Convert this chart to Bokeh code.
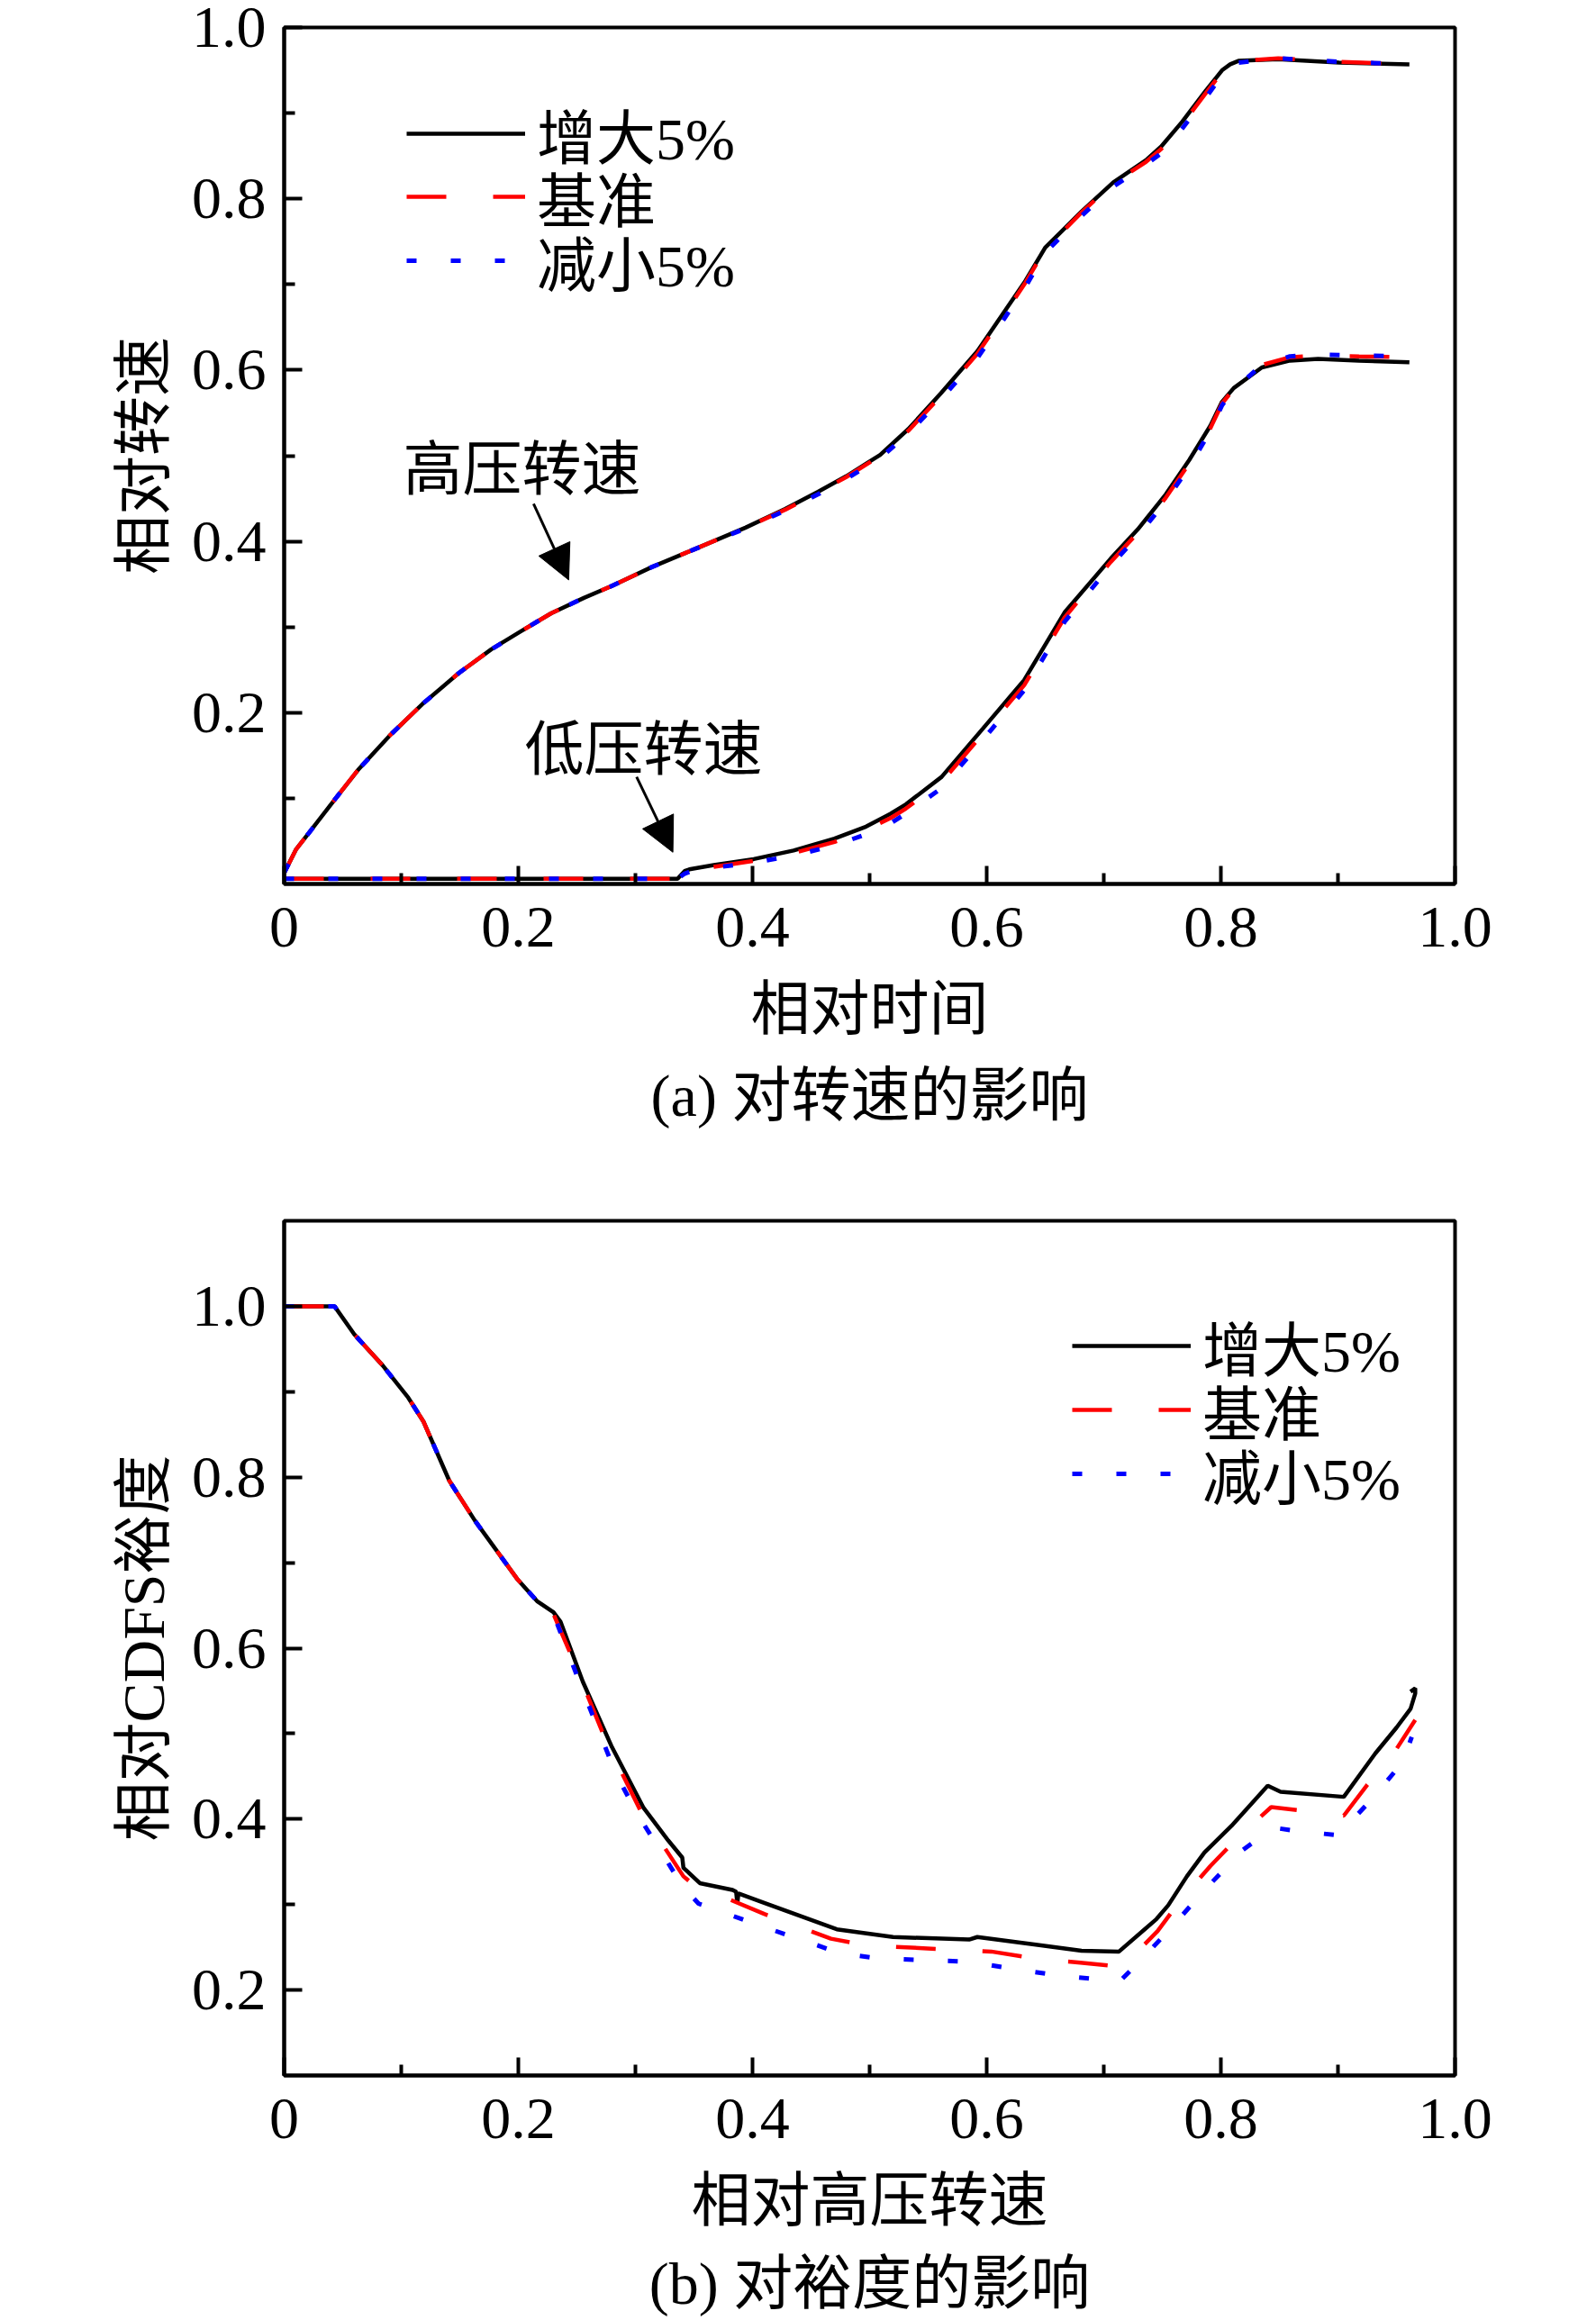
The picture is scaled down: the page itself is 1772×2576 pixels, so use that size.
from bokeh.plotting import figure
from bokeh.layouts import column
from bokeh.models import (Range1d, FixedTicker, Legend, LegendItem, Arrow, NormalHead,
                          Label, Title, CustomJSTickFormatter)
from bokeh.embed import file_html
from bokeh.resources import INLINE

# ---------------- data: (a) speeds vs relative time ----------------
series_names = ["增大5%", "基准", "减小5%"]

t_hp = [0.0, 0.010, 0.022, 0.040, 0.063, 0.090, 0.118, 0.149, 0.177, 0.201, 0.228, 0.256,
        0.280, 0.314, 0.349, 0.394, 0.428, 0.456, 0.480, 0.509, 0.533, 0.561, 0.592, 0.615,
        0.633, 0.650, 0.681, 0.708, 0.736, 0.749, 0.767, 0.787, 0.801, 0.808, 0.815, 0.849,
        0.901, 0.961]
hp_up = [0.013, 0.040, 0.061, 0.093, 0.133, 0.173, 0.210, 0.246, 0.274, 0.294, 0.316, 0.334,
         0.348, 0.370, 0.390, 0.416, 0.438, 0.458, 0.476, 0.501, 0.531, 0.573, 0.622, 0.668,
         0.704, 0.743, 0.785, 0.819, 0.845, 0.861, 0.890, 0.926, 0.950, 0.957, 0.961, 0.963,
         0.959, 0.957]
hp_base = [0.013, 0.040, 0.061, 0.093, 0.133, 0.173, 0.210, 0.246, 0.274, 0.294, 0.316, 0.334,
           0.348, 0.370, 0.390, 0.416, 0.437, 0.457, 0.475, 0.500, 0.529, 0.570, 0.619, 0.665,
           0.702, 0.741, 0.784, 0.818, 0.843, 0.858, 0.887, 0.923, 0.948, 0.956, 0.961, 0.964,
           0.960, 0.957]
hp_down = [0.013, 0.040, 0.061, 0.093, 0.133, 0.173, 0.210, 0.246, 0.274, 0.294, 0.316, 0.334,
           0.348, 0.370, 0.390, 0.415, 0.436, 0.455, 0.473, 0.497, 0.526, 0.566, 0.614, 0.660,
           0.697, 0.737, 0.780, 0.814, 0.840, 0.853, 0.882, 0.918, 0.944, 0.953, 0.959, 0.964,
           0.960, 0.957]

t_lp = [0.0, 0.336, 0.342, 0.346, 0.367, 0.401, 0.435, 0.470, 0.497, 0.518, 0.531, 0.5615,
        0.5965, 0.632, 0.6665, 0.706, 0.729, 0.753, 0.773, 0.791, 0.801, 0.811, 0.835, 0.859,
        0.883, 0.918, 0.961]
lp_up = [0.006, 0.006, 0.015, 0.017, 0.022, 0.029, 0.039, 0.053, 0.067, 0.082, 0.093, 0.125,
         0.181, 0.238, 0.317, 0.380, 0.414, 0.455, 0.495, 0.535, 0.563, 0.579, 0.603, 0.611,
         0.613, 0.611, 0.609]
lp_base = [0.006, 0.006, 0.013, 0.015, 0.020, 0.027, 0.036, 0.049, 0.063, 0.077, 0.088, 0.119,
           0.175, 0.232, 0.311, 0.376, 0.410, 0.451, 0.491, 0.532, 0.561, 0.578, 0.606, 0.615,
           0.617, 0.616, 0.615]
lp_down = [0.006, 0.006, 0.012, 0.014, 0.019, 0.025, 0.033, 0.045, 0.058, 0.071, 0.082, 0.112,
           0.168, 0.226, 0.306, 0.372, 0.406, 0.447, 0.487, 0.529, 0.559, 0.577, 0.606, 0.616,
           0.618, 0.617, 0.616]

# ---------------- data: (b) CDFS margin vs relative HP speed ----------------
m_up_x = [0.0, 0.043, 0.060, 0.084, 0.106, 0.119, 0.141, 0.163, 0.181, 0.199, 0.216, 0.230,
          0.236, 0.255, 0.280, 0.307, 0.328, 0.340, 0.341, 0.355, 0.383, 0.386, 0.387, 0.388,
          0.410, 0.472, 0.520, 0.585, 0.592, 0.642, 0.681, 0.713, 0.745, 0.755, 0.771, 0.786,
          0.809, 0.840, 0.851, 0.905, 0.932, 0.950, 0.962, 0.966, 0.966, 0.962]
m_up_y = [1.0, 1.0, 0.967, 0.931, 0.893, 0.865, 0.796, 0.749, 0.715, 0.681, 0.655, 0.642,
          0.631, 0.561, 0.484, 0.413, 0.375, 0.355, 0.343, 0.325, 0.317, 0.315, 0.301, 0.313,
          0.302, 0.271, 0.262, 0.259, 0.262, 0.253, 0.246, 0.245, 0.283, 0.299, 0.333, 0.361,
          0.392, 0.439, 0.432, 0.426, 0.477, 0.507, 0.529, 0.547, 0.553, 0.549]
m_base_x = [0.0, 0.043, 0.060, 0.084, 0.106, 0.119, 0.141, 0.163, 0.181, 0.199, 0.216, 0.230,
            0.245, 0.275, 0.305, 0.341, 0.349, 0.410, 0.467, 0.499, 0.604, 0.645, 0.680, 0.716,
            0.746, 0.765, 0.791, 0.815, 0.843, 0.905, 0.925, 0.949, 0.966]
m_base_y = [1.0, 1.0, 0.967, 0.931, 0.893, 0.865, 0.796, 0.749, 0.715, 0.681, 0.655, 0.640,
            0.592, 0.491, 0.408, 0.333, 0.324, 0.289, 0.260, 0.252, 0.245, 0.236, 0.232, 0.227,
            0.269, 0.304, 0.345, 0.379, 0.414, 0.404, 0.440, 0.480, 0.516]
m_down_x = [0.0, 0.043, 0.060, 0.084, 0.106, 0.119, 0.141, 0.163, 0.181, 0.199, 0.216, 0.230,
            0.250, 0.283, 0.302, 0.321, 0.340, 0.354, 0.405, 0.475, 0.507, 0.587, 0.625, 0.662,
            0.691, 0.715, 0.729, 0.759, 0.786, 0.819, 0.845, 0.860, 0.900, 0.928, 0.955, 0.963]
m_down_y = [1.0, 1.0, 0.967, 0.931, 0.893, 0.865, 0.796, 0.749, 0.715, 0.681, 0.655, 0.640,
            0.568, 0.454, 0.405, 0.364, 0.322, 0.301, 0.276, 0.243, 0.237, 0.233, 0.224, 0.217,
            0.213, 0.212, 0.231, 0.275, 0.317, 0.364, 0.390, 0.387, 0.381, 0.422, 0.466, 0.496]

x_ticks = [0.0, 0.2, 0.4, 0.6, 0.8, 1.0]
x_minor = [0.1, 0.3, 0.5, 0.7, 0.9]
y_ticks = [0.2, 0.4, 0.6, 0.8, 1.0]
y_minor_a = [0.1, 0.3, 0.5, 0.7, 0.9]
y_minor_b = [0.3, 0.5, 0.7, 0.9]

# annotation texts and anchors (data units of panel a)
hp_text, hp_text_xy = "高压转速", (0.203, 0.484)
lp_text, lp_text_xy = "低压转速", (0.307, 0.157)
hp_arrow = (0.213, 0.444, 0.243, 0.355)
lp_arrow = (0.301, 0.125, 0.332, 0.037)

FONT = "'Liberation Serif', 'Noto Sans CJK SC', serif"
FS = "66px"
COLORS = ["black", "#ff0000", "#0000ff"]
DASHES = ["solid", "44 52", "11 38"]
WIDTHS = [4.5, 4.5, 5]

tick_fmt = CustomJSTickFormatter(code="return Math.abs(tick) < 1e-9 ? '0' : tick.toFixed(1);")


def make_fig(yr, yminor, xlabel, ylabel, caption, top_border, bottom_border, fh, cap_standoff):
    p = figure(frame_width=1300, frame_height=fh, x_range=Range1d(0, 1.0), y_range=yr,
               output_backend="svg", toolbar_location=None,
               min_border_left=315, min_border_right=149,
               min_border_top=top_border, min_border_bottom=bottom_border)
    p.background_fill_color = "white"
    p.border_fill_color = "white"
    p.outline_line_color = "black"
    p.outline_line_width = 4
    p.grid.visible = False
    p.xaxis.ticker = FixedTicker(ticks=x_ticks, minor_ticks=x_minor)
    p.yaxis.ticker = FixedTicker(ticks=y_ticks, minor_ticks=yminor)
    p.xaxis.formatter = tick_fmt
    p.yaxis.formatter = tick_fmt
    for ax in (p.xaxis[0], p.yaxis[0]):
        ax.axis_line_width = 4
        ax.major_tick_in = 20
        ax.major_tick_out = 0
        ax.minor_tick_in = 12
        ax.minor_tick_out = 0
        ax.major_tick_line_width = 4
        ax.minor_tick_line_width = 4
        ax.major_label_text_font = FONT
        ax.major_label_text_font_size = FS
        ax.major_label_text_color = "black"
        ax.axis_label_text_font = FONT
        ax.axis_label_text_font_size = FS
        ax.axis_label_text_font_style = "normal"
        ax.axis_label_text_color = "black"
    p.xaxis.major_label_standoff = 26
    p.xaxis.axis_label_standoff = 30
    p.yaxis.major_label_standoff = 20
    p.yaxis.axis_label_standoff = 14
    p.xaxis.axis_label = xlabel
    p.yaxis.axis_label = ylabel
    p.add_layout(Title(text=caption, align="center", text_font=FONT, text_font_size=FS,
                       text_font_style="normal", text_color="black", standoff=cap_standoff),
                 "below")
    return p


def add_legend(p, renderers, x, ys):
    # one single-row legend per series so that row pitch matches the original
    for n, r, y in zip(series_names, renderers, ys):
        lg = Legend(items=[LegendItem(label=n, renderers=[r])], location=(x, y),
                    orientation="vertical", glyph_width=132, glyph_height=70,
                    label_height=70, label_standoff=13, spacing=0, padding=0, margin=0,
                    border_line_color=None, background_fill_alpha=0,
                    label_text_font=FONT, label_text_font_size=FS, label_text_color="black")
        p.add_layout(lg)


# ---------------- panel (a) ----------------
pa = make_fig(Range1d(0, 1.0), y_minor_a, "相对时间", "相对转速", "(a) 对转速的影响",
              30, 300, 951, 36)
hp_series = [hp_up, hp_base, hp_down]
lp_series = [lp_up, lp_base, lp_down]
rend_a = []
for i in range(3):
    r = pa.line(t_hp, hp_series[i], line_color=COLORS[i], line_width=WIDTHS[i],
                line_dash=DASHES[i])
    pa.line(t_lp, lp_series[i], line_color=COLORS[i], line_width=WIDTHS[i],
            line_dash=DASHES[i])
    rend_a.append(r)
add_legend(pa, rend_a, 136, [785, 715, 644])

for (txt, (tx, ty)) in [(hp_text, hp_text_xy), (lp_text, lp_text_xy)]:
    pa.add_layout(Label(x=tx, y=ty, text=txt, text_align="center", text_baseline="middle",
                        text_font=FONT, text_font_size=FS, text_color="black"))
for (x0, y0, x1, y1) in [hp_arrow, lp_arrow]:
    pa.add_layout(Arrow(end=NormalHead(size=38, fill_color="black", line_color="black"),
                        x_start=x0, y_start=y0, x_end=x1, y_end=y1,
                        line_color="black", line_width=3))

# ---------------- panel (b) ----------------
pb = make_fig(Range1d(0.1, 1.1), y_minor_b, "相对高压转速", "相对CDFS裕度", "(b) 对裕度的影响",
              74, 262, 949, 28)
mx = [m_up_x, m_base_x, m_down_x]
my = [m_up_y, m_base_y, m_down_y]
rend_b = []
for i in range(3):
    r = pb.line(mx[i], my[i], line_color=COLORS[i], line_width=WIDTHS[i], line_dash=DASHES[i])
    rend_b.append(r)
add_legend(pb, rend_b, 875, [762, 691, 620])

layout = column(pa, pb, spacing=0)
open("out.html", "w").write(file_html(layout, INLINE))
